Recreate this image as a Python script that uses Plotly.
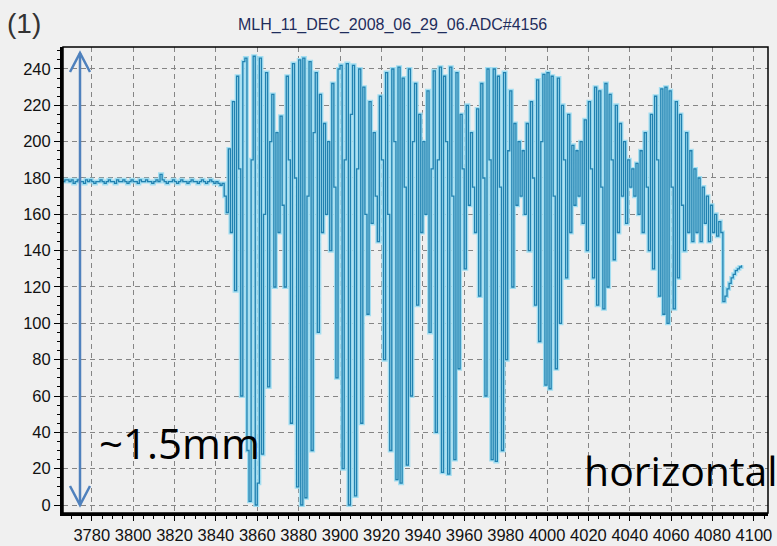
import plotly.graph_objects as go

# ---------------- data ----------------
title_text = "MLH_11_DEC_2008_06_29_06.ADC#4156"
x_start = 3766          # position of the first sample
x_step = 1              # one sample per x unit

baseline_values = [178, 179,
    179, 178, 179, 177, 178, 179, 178, 178, 177, 179,
    178, 179, 178, 177, 178, 178, 179, 178, 177, 178,
    179, 178, 178, 177, 179, 178, 178, 179, 178, 177,
    178, 179, 178, 178, 177, 179, 178, 178, 179, 178,
    178, 177, 178, 179, 178, 182, 179, 178, 177, 178,
    178, 179, 178, 177, 178, 179, 178, 178, 177, 178,
    179, 178, 178, 177, 178, 179, 178, 177, 178, 179,
    178, 177, 178, 177, 176, 177, 170, 161]
lobe1_values = [196, 150, 222, 118, 236, 185, 60, 244, 246, 30, 2, 190, 247, 0, 12, 246, 28, 160, 238, 65, 200, 226, 120, 205]
lobe2_values = [150, 214, 165, 120, 236, 190, 45, 243, 180, 10, 245, 0, 246, 4, 170, 244, 30, 205, 238, 95, 226, 150, 210]
lobe3_values = [160, 200, 140, 232, 175, 70, 240, 242, 20, 190, 243, 0, 215, 242, 5, 185, 240, 45, 230, 160, 105, 222, 155]
lobe4_values = [205, 170, 145, 225, 190, 80, 238, 160, 30, 240, 200, 14, 241, 12, 235, 175, 22, 240, 60, 200, 232, 110, 215, 150]
lobe5_values = [200, 160, 228, 95, 185, 239, 40, 190, 241, 18, 236, 200, 17, 241, 170, 25, 238, 75, 215, 185, 130, 220, 165]
lobe6_values = [205, 175, 150, 218, 115, 232, 180, 60, 240, 190, 25, 240, 24, 236, 175, 30, 238, 80, 195, 228, 120, 210, 165, 200, 170]
lobe7_values = [195, 160, 210, 140, 222, 180, 110, 234, 90, 200, 237, 66, 238, 64, 236, 170, 75, 235, 100, 220, 190, 125, 215, 150, 198, 165]
lobe8_values = [195, 170, 200, 155, 212, 140, 222, 185, 125, 230, 110, 228, 175, 108, 232, 120, 226, 190, 135, 220, 150, 210, 170, 200, 155, 190, 175, 185]
lobe9_values = [170, 188, 160, 195, 150, 205, 175, 140, 215, 130, 225, 190, 115, 229, 105, 230, 100, 228, 175, 108, 222, 125, 215, 165, 140, 205, 150, 195, 145, 185]
decay_values = [150, 180, 145, 175, 155, 170, 145, 165, 150, 160, 148, 156, 150]
tail_values = [112, 115, 119, 122, 125, 127, 129, 130, 131, 132]

y_ticks = [0, 20, 40, 60, 80, 100, 120, 140, 160, 180, 200, 220, 240]
x_ticks = [3780, 3800, 3820, 3840, 3860, 3880, 3900, 3920, 3940, 3960,
           3980, 4000, 4020, 4040, 4060, 4080, 4100]

signal = (baseline_values + lobe1_values + lobe2_values + lobe3_values +
          lobe4_values + lobe5_values + lobe6_values + lobe7_values +
          lobe8_values + lobe9_values + decay_values + tail_values)
x_values = [x_start + i * x_step for i in range(len(signal))]

# ---------------- figure ----------------
W, H = 777, 546
L, R, T, B = 63, 9, 47, 33
fig = go.Figure()

# light halo of the trace
fig.add_trace(go.Scatter(x=x_values, y=signal, mode="lines",
                         line=dict(color="#a3def1", width=4, shape="hv"),
                         hoverinfo="skip", showlegend=False))
fig.add_trace(go.Scatter(x=x_values, y=signal, mode="lines",
                         line=dict(color="#2181b0", width=1.3, shape="hv"),
                         showlegend=False))

tick_font = dict(family="Liberation Sans, Arial, sans-serif", size=16.5, color="#111111")
fig.update_xaxes(range=[3766.1, 4106.8], tickvals=x_ticks,
                 ticktext=[str(v) for v in x_ticks], automargin=False,
                 showgrid=True, gridcolor="#858585", gridwidth=1, griddash="5px,4px",
                 zeroline=False, showline=True, linecolor="black", linewidth=3,
                 ticks="outside", ticklen=5, tickcolor="black", tickfont=tick_font,
                 minor=dict(ticks="outside", ticklen=3, dtick=5, tick0=3780,
                            tickcolor="black", showgrid=False))
fig.update_yaxes(range=[-4.4, 252.1], tickvals=y_ticks, automargin=False,
                 showgrid=True, gridcolor="#858585", gridwidth=1, griddash="5px,4px",
                 zeroline=False, showline=True, linecolor="black", linewidth=3,
                 ticks="outside", ticklen=6, tickcolor="black", tickfont=tick_font,
                 minor=dict(ticks="outside", ticklen=3, dtick=5, tick0=0,
                            tickcolor="black", showgrid=False))

def px_x(px):
    return (px - L) / (W - L - R)

def px_y(py):
    return (H - B - py) / (H - T - B)

shapes = [
    dict(type="rect", xref="paper", yref="paper", x0=0, y0=0, x1=1, y1=1,
         line=dict(color="black", width=1.5), fillcolor="rgba(0,0,0,0)"),
]
# double-headed measurement arrow
ax = px_x(80)
y_top, y_bot = px_y(53), px_y(505)
arm_dx = 10 / (W - L - R)
arm_dy = 19 / (H - T - B)
arrow_col = "#4f81bd"
shapes += [
    dict(type="line", xref="paper", yref="paper", x0=ax, x1=ax, y0=y_bot, y1=y_top,
         line=dict(color=arrow_col, width=2.5)),
    dict(type="path", xref="paper", yref="paper",
         path=f"M {ax-arm_dx} {y_top-arm_dy} L {ax} {y_top} L {ax+arm_dx} {y_top-arm_dy}",
         line=dict(color=arrow_col, width=2.5)),
    dict(type="path", xref="paper", yref="paper",
         path=f"M {ax-arm_dx} {y_bot+arm_dy} L {ax} {y_bot} L {ax+arm_dx} {y_bot+arm_dy}",
         line=dict(color=arrow_col, width=2.5)),
]

annotations = [
    dict(text=title_text, xref="paper", yref="paper", x=px_x(392), y=px_y(25),
         xanchor="center", yanchor="middle", showarrow=False,
         font=dict(family="Liberation Sans, Arial, sans-serif", size=16, color="#1f2d5c")),
    dict(text="(1)", xref="paper", yref="paper", x=px_x(5), y=px_y(23),
         xanchor="left", yanchor="middle", showarrow=False,
         font=dict(family="Liberation Sans, Arial, sans-serif", size=28, color="#333333")),
    dict(text="~1.5mm", xref="paper", yref="paper", x=px_x(97), y=px_y(442),
         xanchor="left", yanchor="middle", showarrow=False,
         font=dict(family="Open Sans, sans-serif", size=42, color="black")),
    dict(text="horizontal", xref="paper", yref="paper", x=px_x(582), y=px_y(470),
         xanchor="left", yanchor="middle", showarrow=False,
         font=dict(family="Open Sans, sans-serif", size=41, color="black")),
]

fig.update_layout(width=W, height=H, margin=dict(l=L, r=R, t=T, b=B, autoexpand=False),
                  paper_bgcolor="#f0f0f0", plot_bgcolor="#efefef",
                  shapes=shapes, annotations=annotations, showlegend=False)

fig.write_html("out.html")
